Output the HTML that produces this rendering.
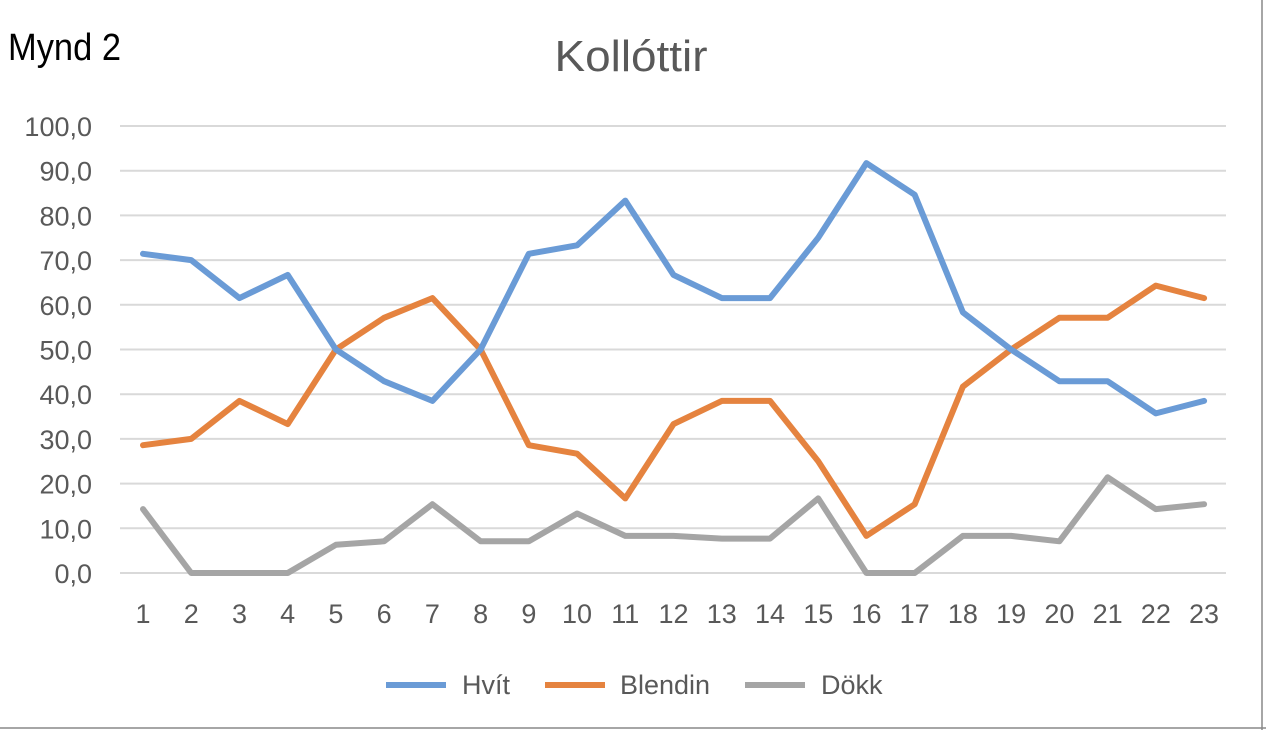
<!DOCTYPE html>
<html><head><meta charset="utf-8"><style>
html,body{margin:0;padding:0;background:#fff;}
svg{display:block;font-family:"Liberation Sans",sans-serif;}
</style></head><body>
<svg id="s" width="1266" height="730" xmlns="http://www.w3.org/2000/svg">
<rect width="1266" height="730" fill="#fff"/>
<line x1="1262" y1="0" x2="1262" y2="730" stroke="#888" stroke-width="1.5"/>
<line x1="0" y1="728" x2="1266" y2="728" stroke="#888" stroke-width="1.5"/>
<text x="8" y="60" font-size="38" fill="#000" textLength="113" lengthAdjust="spacingAndGlyphs">Mynd 2</text>
<text x="631" y="71" font-size="44" fill="#595959" text-anchor="middle" textLength="153" lengthAdjust="spacingAndGlyphs">Kollóttir</text>
<g id="grid"></g>
<g id="series"></g>
<g font-size="27" fill="#595959">
<line x1="386" y1="685" x2="446" y2="685" stroke="#6a9bd6" stroke-width="6"/>
<text x="462" y="694">Hvít</text>
<line x1="545" y1="685" x2="605" y2="685" stroke="#e5833f" stroke-width="6"/>
<text x="620" y="694">Blendin</text>
<line x1="745" y1="685" x2="805" y2="685" stroke="#a5a5a5" stroke-width="6"/>
<text x="821" y="694">Dökk</text>
</g>
</svg>
<script>
function Y(v){return 573-v*4.47;}
function X(i){return 143+i*48.23;}
var g=document.getElementById('grid'),h='';
for(var v=0;v<=100;v+=10){var y=Y(v);
h+='<line x1="120" y1="'+y+'" x2="1226" y2="'+y+'" stroke="#d9d9d9" stroke-width="2"/>';
h+='<text x="92" y="'+(y+10)+'" font-size="27" fill="#595959" text-anchor="end">'+v.toFixed(1).replace('.',',')+'</text>';}
for(var i=0;i<23;i++){h+='<text x="'+X(i)+'" y="623" font-size="27" fill="#595959" text-anchor="middle">'+(i+1)+'</text>';}
g.innerHTML=h;
var d={ "#a5a5a5":[14.3,0,0,0,6.3,7.1,15.4,7.1,7.1,13.3,8.3,8.3,7.7,7.7,16.7,0,0,8.3,8.3,7.1,21.4,14.3,15.4],
"#e5833f":[28.6,30,38.5,33.3,50,57.1,61.5,50,28.6,26.7,16.7,33.3,38.5,38.5,25,8.3,15.4,41.7,50,57.1,57.1,64.3,61.5],
"#6a9bd6":[71.4,70,61.5,66.7,50,42.9,38.5,50,71.4,73.3,83.3,66.7,61.5,61.5,75,91.7,84.6,58.3,50,42.9,42.9,35.7,38.5]};
var s='';
for(var c in d){var p=d[c].map(function(v,i){return X(i).toFixed(1)+','+Y(v).toFixed(1);}).join(' ');
s+='<polyline points="'+p+'" fill="none" stroke="'+c+'" stroke-width="6" stroke-linejoin="round" stroke-linecap="round"/>';}
document.getElementById('series').innerHTML=s;
</script>
</body></html>
